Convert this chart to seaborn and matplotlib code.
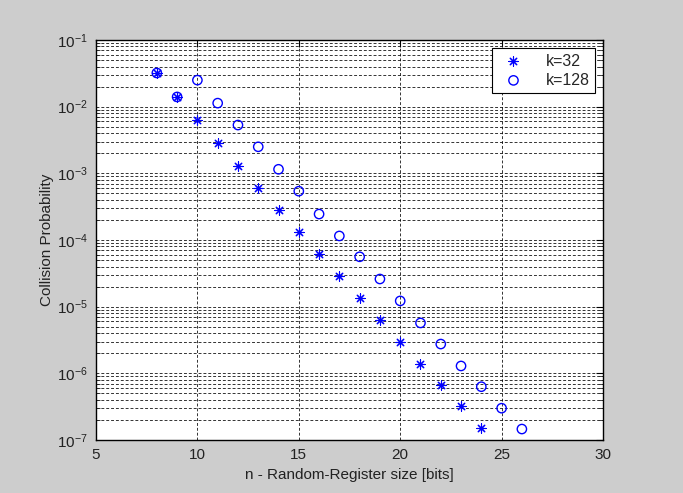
import matplotlib
matplotlib.use('Agg')
import matplotlib.pyplot as plt
import seaborn as sns
import pandas as pd
from matplotlib.ticker import LogLocator, FixedLocator, NullFormatter

# data
n_k32 = list(range(8, 25))
p_k32 = [3.2e-2, 1.4e-2, 6.3e-3, 2.9e-3, 1.3e-3, 6.0e-4, 2.8e-4, 1.3e-4, 6.2e-5,
         2.9e-5, 1.35e-5, 6.3e-6, 2.95e-6, 1.38e-6, 6.7e-7, 3.2e-7, 1.5e-7]
n_k128 = list(range(8, 27))
p_k128 = [3.2e-2, 1.4e-2, 2.5e-2, 1.13e-2, 5.3e-3, 2.5e-3, 1.15e-3, 5.4e-4, 2.45e-4,
          1.15e-4, 5.6e-5, 2.6e-5, 1.22e-5, 5.7e-6, 2.75e-6, 1.29e-6, 6.3e-7, 3.0e-7, 1.46e-7]
labels = ["k=32", "k=128"]
x_ticks = [5, 10, 15, 20, 25, 30]

sns.set_style("white")
plt.rcParams['font.family'] = ['Liberation Sans', 'DejaVu Sans']
plt.rcParams['mathtext.default'] = 'regular'

df32 = pd.DataFrame({"n": n_k32, "p": p_k32})
df128 = pd.DataFrame({"n": n_k128, "p": p_k128})

fig = plt.figure(figsize=(6.83, 4.93), dpi=100, facecolor='#cdcdcd')
ax = fig.add_axes([96/683, 1-440/493, 507/683, 400/493])
ax.set_facecolor('white')

sns.scatterplot(data=df32, x="n", y="p", ax=ax, marker=(8, 2, 0), color='blue',
                s=45, linewidth=0.8, label=labels[0], zorder=3)
sns.scatterplot(data=df128, x="n", y="p", ax=ax, marker='o', color='blue',
                s=45, linewidth=1.0, label=labels[1], zorder=3)
coll = ax.collections[-1]
coll.set_facecolor('none')
coll.set_edgecolor('blue')

ax.set_yscale('log')
ax.set_xlim(5, 30)
ax.set_ylim(1e-7, 1e-1)
ax.xaxis.set_major_locator(FixedLocator(x_ticks))
ax.yaxis.set_major_locator(LogLocator(base=10, numticks=20))
ax.yaxis.set_minor_locator(LogLocator(base=10, subs=range(2, 10), numticks=100))
ax.yaxis.set_minor_formatter(NullFormatter())

dash = (0, (3, 2))
ax.grid(True, which='major', axis='both', color='black', linestyle=dash, linewidth=0.7, alpha=0.8)
ax.grid(True, which='minor', axis='y', color='black', linestyle=dash, linewidth=0.7, alpha=0.8)
ax.set_axisbelow(True)

for sp in ax.spines.values():
    sp.set_visible(True)
    sp.set_color('black')
    sp.set_linewidth(1.0)

ax.tick_params(which='major', direction='in', length=5, width=0.8, top=True, right=True,
               labelsize=11, colors='black', pad=6)
ax.tick_params(which='minor', direction='in', length=3, width=0.6, left=True, right=True)
for lbl in ax.get_xticklabels() + ax.get_yticklabels():
    lbl.set_color('#222222')

ax.set_xlabel("n - Random-Register size [bits]", fontsize=11, color='#222222', labelpad=4)
ax.set_ylabel("Collision Probability", fontsize=11, color='#222222', labelpad=2)

leg = ax.legend(loc='upper right', fontsize=11.5, frameon=True, fancybox=False,
                edgecolor='black', borderaxespad=0.5, handletextpad=1.0,
                borderpad=0.35, labelspacing=0.25, handlelength=2.0)
leg.get_frame().set_linewidth(0.8)
leg.get_frame().set_alpha(1)

fig.savefig('out.png', dpi=100, facecolor=fig.get_facecolor())
